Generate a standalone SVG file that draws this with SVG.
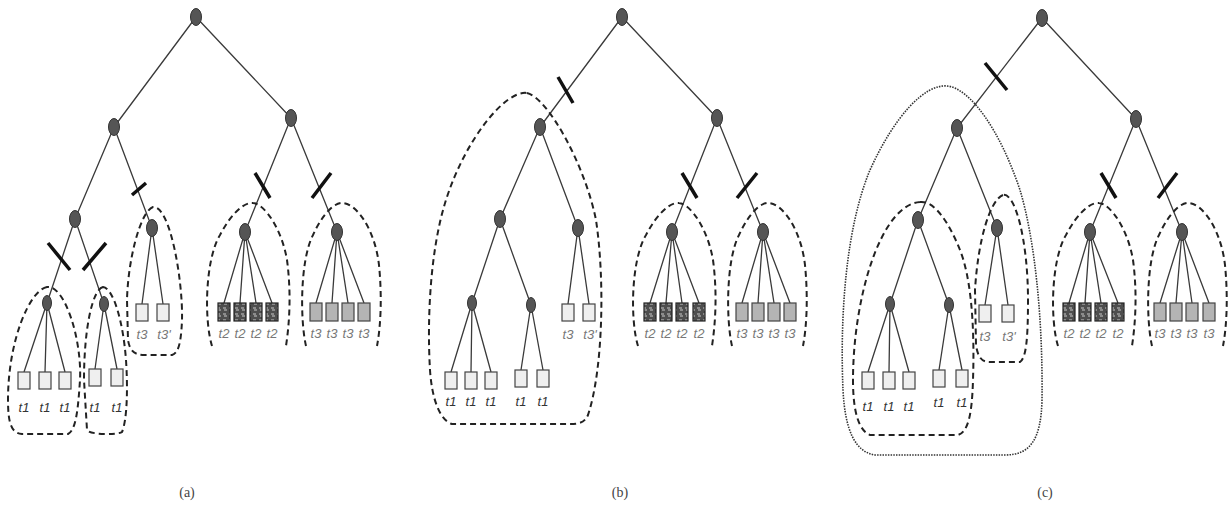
<svg xmlns="http://www.w3.org/2000/svg" width="1230" height="511" viewBox="0 0 1230 511">
<defs>
<pattern id="pt2" width="6" height="6" patternUnits="userSpaceOnUse">
<rect width="6" height="6" fill="#4e4e4e"/>
<path d="M1,2 h3 M2,4 h3" stroke="#c8c8c8" stroke-width="1"/>
</pattern>
<path id="arch" d="M212,346 C204,320 205,260 220,235 C232,212 245,202 253,203 C265,204 282,230 287,260 C291,290 290,320 286,346"/>
<path id="arch2" d="M306,346 C300,320 300,260 313,235 C323,213 335,202 343,203 C357,204 375,230 379,265 C382,295 381,325 377,346"/>
</defs>
<style>
.e{stroke:#3a3a3a;stroke-width:1.3;fill:none}
.n{fill:#555;stroke:#333;stroke-width:1}
.cut{stroke:#111;stroke-width:3.5;stroke-linecap:butt}
.d{fill:none;stroke:#222;stroke-width:2;stroke-dasharray:6 4}
.dot{fill:none;stroke:#333;stroke-width:1.6;stroke-dasharray:1.5 1.2}
.lt{fill:#efefef;stroke:#444;stroke-width:1.2}
.dk{fill:url(#pt2);stroke:#222;stroke-width:1.2}
.md{fill:#b4b4b4;stroke:#444;stroke-width:1.2}
.lb{font-family:"Liberation Sans",Arial,sans-serif;font-style:italic;font-size:13px;fill:#333;text-anchor:middle}
.lg{font-family:"Liberation Sans",Arial,sans-serif;font-style:italic;font-size:13px;fill:#777;text-anchor:middle}
.cap{font-family:"Liberation Serif","Times New Roman",serif;font-size:14px;fill:#444;text-anchor:middle}
</style>
<rect width="1230" height="511" fill="#fff"/>

<g id="connectors">
<!-- panel a -->
<path class="e" d="M196,17 L114,127 M196,17 L291,118 M114,127 L75,219 M114,127 L152,228 M75,219 L47,303 M75,219 L104,304 M47,303 L24,372 M47,303 L45,372 M47,303 L65,372 M104,304 L95,369 M104,304 L117,369 M152,228 L142,304 M152,228 L163,304 M291,118 L245,232 M291,118 L337,232 M245,232 L224,303 M245,232 L240,303 M245,232 L256,303 M245,232 L272,303 M337,232 L316,303 M337,232 L332,303 M337,232 L348,303 M337,232 L364,303"/>
<!-- panel b -->
<path class="e" d="M622,17 L540,127 M622,17 L717,118 M540,127 L500,219 M540,127 L578,228 M500,219 L472,303 M500,219 L531,305 M472,303 L451,372 M472,303 L471,372 M472,303 L491,372 M531,305 L521,370 M531,305 L543,370 M578,228 L568,304 M578,228 L589,304 M717,118 L672,232 M717,118 L763,232 M672,232 L650,303 M672,232 L666,303 M672,232 L682,303 M672,232 L699,303 M763,232 L742,303 M763,232 L758,303 M763,232 L774,303 M763,232 L790,303"/>
<!-- panel c -->
<path class="e" d="M1042,18 L957,128 M1042,18 L1136,119 M957,128 L918,220 M957,128 L997,228 M918,220 L890,304 M918,220 L949,305 M890,304 L868,372 M890,304 L889,372 M890,304 L909,372 M949,305 L939,370 M949,305 L962,370 M997,228 L985,305 M997,228 L1008,305 M1136,119 L1090,232 M1136,119 L1182,232 M1090,232 L1069,303 M1090,232 L1085,303 M1090,232 L1101,303 M1090,232 L1118,303 M1182,232 L1160,303 M1182,232 L1176,303 M1182,232 L1192,303 M1182,232 L1209,303"/>
<!-- cuts -->
<path class="cut" d="M132,195 L146,183 M48,243 L70,270 M83,270 L106,243 M255,173 L270,198 M331,173 L312,198"/>
<path class="cut" d="M558,77 L573,103 M682,173 L697,198 M757,173 L737,198"/>
<path class="cut" d="M985,63 L1007,90 M1101,173 L1116,198 M1177,173 L1158,198"/>
</g>

<g id="groups">
<path class="d" d="M47,287 C30,290 8,340 8,400 C8,425 12,433 22,434 L68,434 C76,430 78,410 80,380 C82,340 65,285 47,287 Z"/>
<path class="d" d="M103,287 C92,290 84,330 84,380 L87,430 C90,435 118,435 122,432 C127,420 128,390 126,360 C123,320 113,288 103,287 Z"/>
<path class="d" d="M153,207 C140,212 128,260 127,300 L128,340 C130,352 135,355 145,355 L172,355 C178,353 181,345 182,320 C183,280 170,205 153,207 Z"/>
<use href="#arch" class="d"/>
<use href="#arch2" class="d"/>
<path class="d" d="M527,93 C548,98 585,165 596,220 C605,280 603,370 588,415 C585,422 580,424 570,424 L452,424 C440,420 432,400 430,370 C427,320 430,250 446,200 C465,140 505,90 527,93 Z"/>
<use href="#arch" class="d" transform="translate(426,0)"/>
<use href="#arch2" class="d" transform="translate(426,0)"/>
<path class="dot" d="M947,86 C970,88 1000,130 1020,190 C1035,240 1043,320 1042,400 C1041,440 1030,455 1005,455 L875,455 C855,452 845,430 843,390 C840,320 845,230 870,170 C895,115 925,84 947,86 Z"/>
<path class="d" d="M920,202 C935,200 950,225 960,250 C970,275 975,320 973,380 C972,415 968,432 958,435 L870,435 C858,430 853,410 853,380 C853,300 880,205 920,202 Z"/>
<path class="d" d="M1003,195 C990,200 978,240 975,290 L976,345 C978,358 982,362 990,362 L1020,362 C1026,358 1028,340 1028,300 C1028,240 1015,192 1003,195 Z"/>
<use href="#arch" class="d" transform="translate(846,0)"/>
<use href="#arch2" class="d" transform="translate(846,0)"/>
</g>

<!-- panel a nodes -->
<g id="a-root"><ellipse class="n" cx="196" cy="17" rx="5.5" ry="8.5"/></g>
<g id="a-L"><ellipse class="n" cx="114" cy="127" rx="5.5" ry="8.5"/></g>
<g id="a-R"><ellipse class="n" cx="291" cy="118" rx="5.5" ry="8.5"/></g>
<g id="a-LL"><ellipse class="n" cx="75" cy="219" rx="5.5" ry="8.5"/></g>
<g id="a-LR"><ellipse class="n" cx="152" cy="228" rx="5.5" ry="8.5"/></g>
<g id="a-LLL"><ellipse class="n" cx="47" cy="303" rx="4.5" ry="7.5"/></g>
<g id="a-LLR"><ellipse class="n" cx="104" cy="304" rx="4.5" ry="7.5"/></g>
<g id="a-RL"><ellipse class="n" cx="245" cy="232" rx="5.5" ry="8.5"/></g>
<g id="a-RR"><ellipse class="n" cx="337" cy="232" rx="5.5" ry="8.5"/></g>
<g id="a-leaves-t1">
<rect class="lt" x="18" y="372" width="12" height="17"/><rect class="lt" x="39" y="372" width="12" height="17"/><rect class="lt" x="59" y="372" width="12" height="17"/>
<rect class="lt" x="89" y="369" width="12" height="17"/><rect class="lt" x="111" y="369" width="12" height="17"/>
<text class="lb" x="24" y="412">t1</text><text class="lb" x="45" y="412">t1</text><text class="lb" x="65" y="412">t1</text>
<text class="lb" x="95" y="412">t1</text><text class="lb" x="117" y="412">t1</text>
</g>
<g id="a-leaves-t3p">
<rect class="lt" x="136" y="304" width="12" height="17"/><rect class="lt" x="157" y="304" width="12" height="17"/>
<text class="lg" x="142" y="339">t3</text><text class="lg" x="164" y="339">t3'</text>
</g>
<g id="a-leaves-t2">
<rect class="dk" x="218" y="303" width="12" height="18"/><rect class="dk" x="234" y="303" width="12" height="18"/><rect class="dk" x="250" y="303" width="12" height="18"/><rect class="dk" x="266" y="303" width="12" height="18"/>
<text class="lg" x="224" y="338">t2</text><text class="lg" x="240" y="338">t2</text><text class="lg" x="256" y="338">t2</text><text class="lg" x="272" y="338">t2</text>
</g>
<g id="a-leaves-t3">
<rect class="md" x="310" y="303" width="12" height="18"/><rect class="md" x="326" y="303" width="12" height="18"/><rect class="md" x="342" y="303" width="12" height="18"/><rect class="md" x="358" y="303" width="12" height="18"/>
<text class="lg" x="316" y="338">t3</text><text class="lg" x="332" y="338">t3</text><text class="lg" x="348" y="338">t3</text><text class="lg" x="364" y="338">t3</text>
</g>

<!-- panel b nodes -->
<g id="b-root"><ellipse class="n" cx="622" cy="17" rx="5.5" ry="8.5"/></g>
<g id="b-L"><ellipse class="n" cx="540" cy="127" rx="5.5" ry="8.5"/></g>
<g id="b-R"><ellipse class="n" cx="717" cy="118" rx="5.5" ry="8.5"/></g>
<g id="b-LL"><ellipse class="n" cx="500" cy="219" rx="5.5" ry="8.5"/></g>
<g id="b-LR"><ellipse class="n" cx="578" cy="228" rx="5.5" ry="8.5"/></g>
<g id="b-LLL"><ellipse class="n" cx="472" cy="303" rx="4.5" ry="7.5"/></g>
<g id="b-LLR"><ellipse class="n" cx="531" cy="305" rx="4.5" ry="7.5"/></g>
<g id="b-RL"><ellipse class="n" cx="672" cy="232" rx="5.5" ry="8.5"/></g>
<g id="b-RR"><ellipse class="n" cx="763" cy="232" rx="5.5" ry="8.5"/></g>
<g id="b-leaves-t1">
<rect class="lt" x="445" y="372" width="12" height="17"/><rect class="lt" x="465" y="372" width="12" height="17"/><rect class="lt" x="485" y="372" width="12" height="17"/>
<rect class="lt" x="515" y="370" width="12" height="17"/><rect class="lt" x="537" y="370" width="12" height="17"/>
<text class="lb" x="451" y="406">t1</text><text class="lb" x="471" y="406">t1</text><text class="lb" x="491" y="406">t1</text>
<text class="lb" x="521" y="406">t1</text><text class="lb" x="543" y="406">t1</text>
</g>
<g id="b-leaves-t3p">
<rect class="lt" x="562" y="304" width="12" height="17"/><rect class="lt" x="583" y="304" width="12" height="17"/>
<text class="lg" x="568" y="339">t3</text><text class="lg" x="590" y="339">t3'</text>
</g>
<g id="b-leaves-t2">
<rect class="dk" x="644" y="303" width="12" height="18"/><rect class="dk" x="660" y="303" width="12" height="18"/><rect class="dk" x="676" y="303" width="12" height="18"/><rect class="dk" x="693" y="303" width="12" height="18"/>
<text class="lg" x="650" y="338">t2</text><text class="lg" x="666" y="338">t2</text><text class="lg" x="682" y="338">t2</text><text class="lg" x="699" y="338">t2</text>
</g>
<g id="b-leaves-t3">
<rect class="md" x="736" y="303" width="12" height="18"/><rect class="md" x="752" y="303" width="12" height="18"/><rect class="md" x="768" y="303" width="12" height="18"/><rect class="md" x="784" y="303" width="12" height="18"/>
<text class="lg" x="742" y="338">t3</text><text class="lg" x="758" y="338">t3</text><text class="lg" x="774" y="338">t3</text><text class="lg" x="790" y="338">t3</text>
</g>

<!-- panel c nodes -->
<g id="c-root"><ellipse class="n" cx="1042" cy="18" rx="5.5" ry="8.5"/></g>
<g id="c-L"><ellipse class="n" cx="957" cy="128" rx="5.5" ry="8.5"/></g>
<g id="c-R"><ellipse class="n" cx="1136" cy="119" rx="5.5" ry="8.5"/></g>
<g id="c-LL"><ellipse class="n" cx="918" cy="220" rx="5.5" ry="8.5"/></g>
<g id="c-LR"><ellipse class="n" cx="997" cy="228" rx="5.5" ry="8.5"/></g>
<g id="c-LLL"><ellipse class="n" cx="890" cy="304" rx="4.5" ry="7.5"/></g>
<g id="c-LLR"><ellipse class="n" cx="949" cy="305" rx="4.5" ry="7.5"/></g>
<g id="c-RL"><ellipse class="n" cx="1090" cy="232" rx="5.5" ry="8.5"/></g>
<g id="c-RR"><ellipse class="n" cx="1182" cy="232" rx="5.5" ry="8.5"/></g>
<g id="c-leaves-t1">
<rect class="lt" x="862" y="372" width="12" height="17"/><rect class="lt" x="883" y="372" width="12" height="17"/><rect class="lt" x="903" y="372" width="12" height="17"/>
<rect class="lt" x="933" y="370" width="12" height="17"/><rect class="lt" x="956" y="370" width="12" height="17"/>
<text class="lb" x="868" y="411">t1</text><text class="lb" x="889" y="411">t1</text><text class="lb" x="909" y="411">t1</text>
<text class="lb" x="939" y="407">t1</text><text class="lb" x="962" y="407">t1</text>
</g>
<g id="c-leaves-t3p">
<rect class="lt" x="979" y="305" width="12" height="17"/><rect class="lt" x="1002" y="305" width="12" height="17"/>
<text class="lg" x="985" y="341">t3</text><text class="lg" x="1009" y="341">t3'</text>
</g>
<g id="c-leaves-t2">
<rect class="dk" x="1063" y="303" width="12" height="18"/><rect class="dk" x="1079" y="303" width="12" height="18"/><rect class="dk" x="1095" y="303" width="12" height="18"/><rect class="dk" x="1112" y="303" width="12" height="18"/>
<text class="lg" x="1069" y="338">t2</text><text class="lg" x="1085" y="338">t2</text><text class="lg" x="1101" y="338">t2</text><text class="lg" x="1118" y="338">t2</text>
</g>
<g id="c-leaves-t3">
<rect class="md" x="1154" y="303" width="12" height="18"/><rect class="md" x="1170" y="303" width="12" height="18"/><rect class="md" x="1186" y="303" width="12" height="18"/><rect class="md" x="1203" y="303" width="12" height="18"/>
<text class="lg" x="1160" y="338">t3</text><text class="lg" x="1176" y="338">t3</text><text class="lg" x="1192" y="338">t3</text><text class="lg" x="1209" y="338">t3</text>
</g>

<g id="captions">
<text class="cap" x="187" y="497">(a)</text>
<text class="cap" x="620" y="497">(b)</text>
<text class="cap" x="1045" y="497">(c)</text>
</g>
</svg>
